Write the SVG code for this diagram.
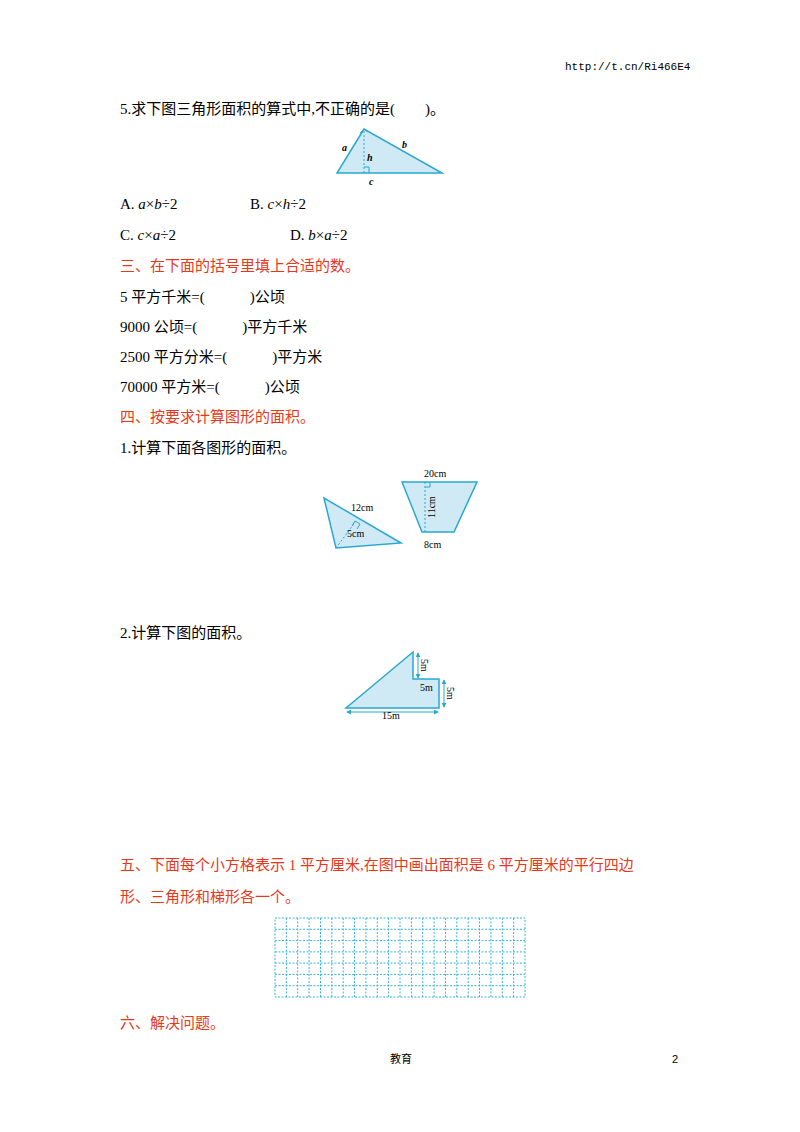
<svg xmlns="http://www.w3.org/2000/svg" width="800" height="1132" viewBox="0 0 800 1132">
<style>
.t{font-family:"Liberation Serif","Noto Sans CJK SC",serif;font-size:15px;fill:#000}
.r{font-family:"Liberation Serif","Noto Sans CJK SC",serif;font-size:15px;fill:#e8381c}
.s{font-family:"Liberation Serif",serif;font-size:10px;fill:#000}
.f{fill:#cfe9f5;stroke:#2aa8d0;stroke-width:1.5}
.d{stroke:#2aa8d0;stroke-width:1;stroke-dasharray:2,2;fill:none}
.ln{stroke:#2aa8d0;stroke-width:1;fill:none}
.g{stroke:#3ab6d8;stroke-width:1;stroke-dasharray:2,1.5;fill:none}
</style>
<defs><marker id="a" viewBox="0 0 6 6" refX="5" refY="3" markerWidth="5" markerHeight="5" orient="auto-start-reverse"><path d="M0,0L6,3L0,6z" fill="#2aa8d0"/></marker></defs>
<text x="565" y="70" style="font-family:'Liberation Mono',monospace;font-size:11px">http://t.cn/Ri466E4</text>
<text class="t" x="120" y="114">5.求下图三角形面积的算式中,不正确的是(　　)。</text>
<g id="tri1"><path class="f" d="M364,129L337,173L442,173Z"/><path class="d" d="M364,131V173"/><path class="ln" d="M364,167h5v6M360,133l4,-4 4,3"/>
<text class="s" x="342" y="151" font-style="italic" font-weight="bold">a</text><text class="s" x="402" y="148" font-style="italic" font-weight="bold">b</text><text class="s" x="367" y="161" font-style="italic" font-weight="bold">h</text><text class="s" x="369" y="185" font-style="italic" font-weight="bold">c</text></g>
<text class="t" x="120" y="209">A. <tspan font-style="italic">a</tspan>×<tspan font-style="italic">b</tspan>÷2</text>
<text class="t" x="250" y="209">B. <tspan font-style="italic">c</tspan>×<tspan font-style="italic">h</tspan>÷2</text>
<text class="t" x="120" y="240">C. <tspan font-style="italic">c</tspan>×<tspan font-style="italic">a</tspan>÷2</text>
<text class="t" x="290" y="240">D. <tspan font-style="italic">b</tspan>×<tspan font-style="italic">a</tspan>÷2</text>
<text class="r" x="120" y="271">三、在下面的括号里填上合适的数。</text>
<text class="t" x="120" y="302">5 平方千米=(　　　)公顷</text>
<text class="t" x="120" y="332">9000 公顷=(　　　)平方千米</text>
<text class="t" x="120" y="362">2500 平方分米=(　　　)平方米</text>
<text class="t" x="120" y="392">70000 平方米=(　　　)公顷</text>
<text class="r" x="120" y="422">四、按要求计算图形的面积。</text>
<text class="t" x="120" y="453">1.计算下面各图形的面积。</text>
<g id="tri2"><path class="f" d="M324,498L336,548L401,543Z"/><path class="d" d="M336,548L356,521"/><path class="ln" d="M352,526l3,-5 5,3 -3,5"/>
<text class="s" x="351" y="511">12cm</text><text class="s" x="347" y="537">5cm</text></g>
<g id="trap"><path class="f" d="M402,482L477,482L454,532L422,532Z"/><path class="d" d="M425,482V532"/><path class="ln" d="M425,487h5v-5"/>
<text class="s" x="424" y="477">20cm</text><text class="s" transform="translate(435,518) rotate(-90)">11cm</text><text class="s" x="424" y="548">8cm</text></g>
<text class="t" x="120" y="638">2.计算下图的面积。</text>
<g id="shape"><path class="f" d="M346,708L413,652V679H439V708Z"/>
<path class="ln" marker-start="url(#a)" marker-end="url(#a)" d="M418,653V678"/><path class="ln" marker-start="url(#a)" marker-end="url(#a)" d="M444,680V707"/><path class="ln" marker-start="url(#a)" marker-end="url(#a)" d="M347,712H438"/>
<text class="s" transform="translate(421,659) rotate(90)">5m</text><text class="s" transform="translate(447,687) rotate(90)">5m</text><text class="s" x="420" y="691">5m</text><text class="s" x="382" y="719">15m</text></g>
<text class="r" x="120" y="870">五、下面每个小方格表示 1 平方厘米,在图中画出面积是 6 平方厘米的平行四边</text>
<text class="r" x="120" y="902">形、三角形和梯形各一个。</text>
<g id="grid"><rect class="g" x="275" y="918" width="250" height="79"/>
<path class="g" d="M286.4,918V997M297.7,918V997M309.1,918V997M320.5,918V997M331.8,918V997M343.2,918V997M354.5,918V997M365.9,918V997M377.3,918V997M388.6,918V997M400,918V997M411.4,918V997M422.7,918V997M434.1,918V997M445.5,918V997M456.8,918V997M468.2,918V997M479.5,918V997M490.9,918V997M502.3,918V997M513.6,918V997M275,929.3H525M275,940.6H525M275,951.9H525M275,963.1H525M275,974.4H525M275,985.7H525"/></g>
<text class="r" x="120" y="1028">六、解决问题。</text>
<text x="390" y="1063" style="font-family:'Noto Sans CJK SC',sans-serif;font-size:11px">教育</text>
<text x="672" y="1063" style="font-family:'Liberation Sans',sans-serif;font-size:11px">2</text>
</svg>
